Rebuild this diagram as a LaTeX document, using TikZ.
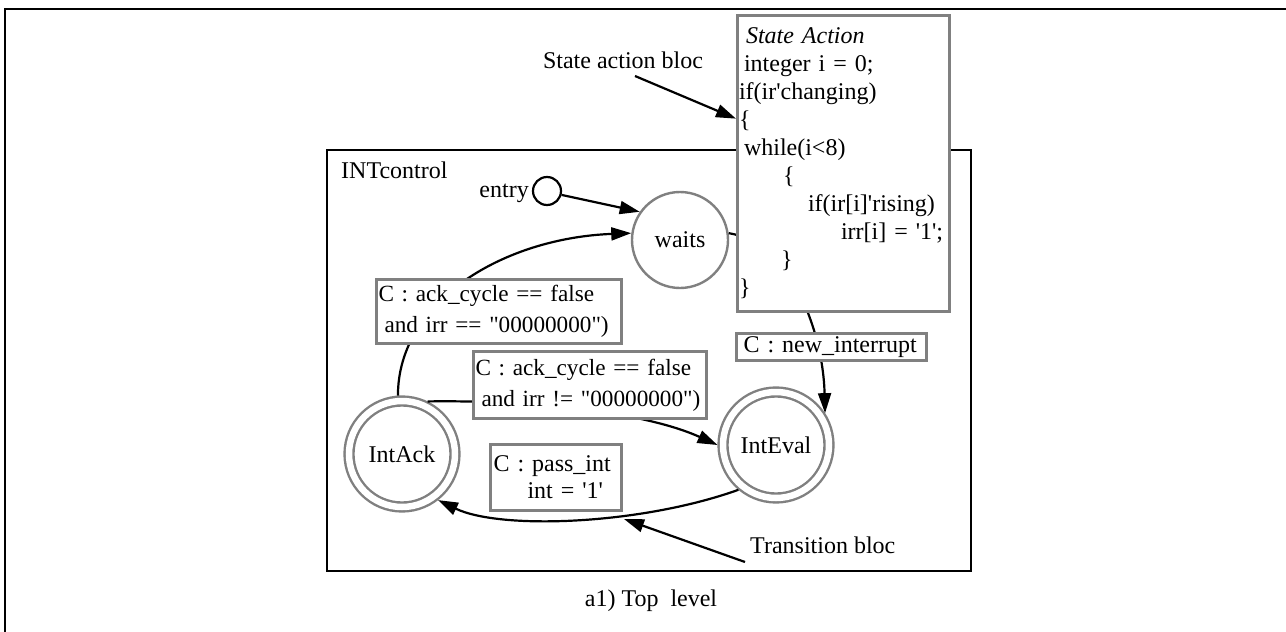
\documentclass[tikz,border=0pt]{standalone}
\usepackage{fontspec}
\newfontfamily\diagfont{Liberation Serif}
\usetikzlibrary{arrows.meta,calc}
\definecolor{sgray}{RGB}{128,128,128}
\begin{document}
\begin{tikzpicture}[x=1pt,y=-1pt,
  every node/.style={font=\diagfont\fontsize{24}{28}\selectfont},
  frameline/.style={line width=2.2pt, black},
  statec/.style={circle, draw=sgray, line width=2.4pt, inner sep=0pt, fill=white},
  dstate/.style={circle, draw=sgray, line width=2.4pt, double=white, double distance=6.5pt, inner sep=0pt, minimum size=106pt, outer sep=5.5pt},
  lbox/.style={draw=sgray, line width=3pt, fill=white, align=left, anchor=north west, inner xsep=2pt, inner ysep=0pt},
  condfont/.style={font=\diagfont\fontsize{23.2}{31}\selectfont},
  edge/.style={line width=2.2pt, black, -{Triangle[length=20pt,width=13pt]}},
  plain/.style={inner sep=0pt}]
\useasboundingbox (0,0) rectangle (1286,632);
% outer frame
\draw[frameline] (1286,9) -- (5,9) -- (5,632);
% INTcontrol box
\draw[frameline] (327,150) rectangle (971,571);
\node[plain, anchor=base west] (intctl) at (341,178) {INTcontrol};
% states
\node[circle, draw, line width=2.2pt, minimum size=28pt, inner sep=0pt] (entry) at (547,191) {};
\node[plain, anchor=base east] (entrylbl) at (529,197) {entry};
\node[statec, minimum size=96pt] (waits) at (680,240) {waits};
\node[dstate] (IntAck) at (402,454) {IntAck};
\node[dstate] (IntEval) at (776,445) {IntEval};
% transitions
\draw[edge] (entry.-15) -- (waits.145);
\draw[edge] (IntAck.94) .. controls (398,300) and (505,238) .. (waits.172);
\draw[edge] (IntAck.64) .. controls (520,400) and (640,410) .. (IntEval.180);
\draw[edge] (waits.8) .. controls (790,243) and (823,330) .. (IntEval.33);
\draw[edge] (IntEval.230) .. controls (640,525) and (500,530) .. (IntAck.-52);
% state action box
\node[lbox, minimum width=212pt, minimum height=296pt, text width=209pt, inner xsep=1.5pt] (sab) at (736,14)
 {{\itshape\hspace*{7pt}State Action}\\
  \hspace*{5pt}integer i = 0;\\
  if(ir'changing)\\
  \{\\
  \hspace*{5pt}while(i<8)\\
  \hspace*{44pt}\{\\
  \hspace*{69pt}if(ir[i]'rising)\\
  \hspace*{102pt}irr[i] = '1';\\
  \hspace*{42pt}\}\\
  \}};
% transition labels
\node[lbox, condfont, minimum width=245pt, minimum height=64pt, text width=241pt] (c1) at (375,278)
 {\mbox{C : ack\_cycle == false}\\\mbox{\hspace*{6pt}and irr == "00000000")}};
\node[lbox, condfont, minimum width=233pt, minimum height=67pt, text width=229pt] (c2) at (472,350)
 {\mbox{C : ack\_cycle == false}\\\mbox{\hspace*{6pt}and irr != "00000000")}};
\node[lbox, minimum width=190pt, minimum height=27pt, text width=176pt, inner xsep=7pt] (c3) at (735,332)
 {C : new\_interrupt};
\node[lbox, font=\diagfont\fontsize{24}{27}\selectfont, minimum width=131pt, minimum height=66pt, text width=125pt, inner xsep=3pt] (c4) at (489,443)
 {C : pass\_int\\\hspace*{34pt}int = '1'};
% annotations
\node[plain, anchor=base] (sabl) at (623,68) {State action bloc};
\coordinate (sabfrom) at (635,76);
\coordinate (sabtip) at ($(sab.north west)!0.35!(sab.south west)$);
\draw[edge] (sabfrom) -- (sabtip);
\node[plain, anchor=base west] (tbl) at (750,553) {Transition bloc};
\coordinate (tblfrom) at (745,562);
\coordinate (tbltip) at (624,519);
\draw[edge] (tblfrom) -- (tbltip);
% caption
\node[plain] (cap) at (651,601) {a1) Top\ \ level};
\end{tikzpicture}
\end{document}
